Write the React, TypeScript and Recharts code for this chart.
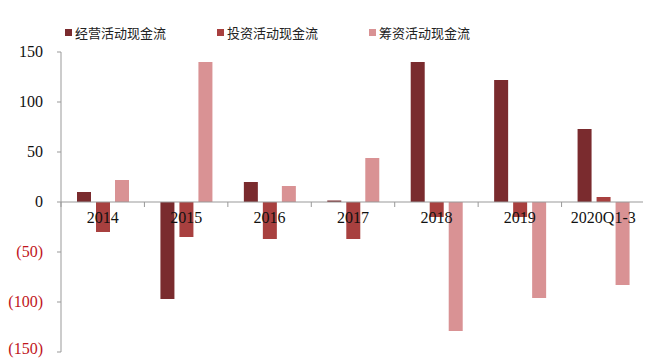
import React from "react";
import {
  BarChart,
  Bar,
  XAxis,
  YAxis,
  Legend,
  ReferenceLine,
} from "recharts";

const categories = ["2014", "2015", "2016", "2017", "2018", "2019", "2020Q1-3"];
const operating = [10, -97, 20, 1.5, 140, 122, 73];
const investing = [-30, -35, -37, -37, -15, -15, 5];
const financing = [22, 140, 16, 44, -129, -96, -83];
const yTicks = [150, 100, 50, 0, -50, -100, -150];

const SERIES = [
  { key: "op", name: "经营活动现金流", color: "#7a2b2e" },
  { key: "inv", name: "投资活动现金流", color: "#a8403f" },
  { key: "fin", name: "筹资活动现金流", color: "#d99294" },
];

const data = categories.map((name, i) => ({
  name,
  op: operating[i],
  inv: investing[i],
  fin: financing[i],
}));

const WIDTH = 643;
const HEIGHT = 350;
const LEGEND_H = 20;
const Y_AXIS_W = 53;
const X_AXIS_H = 1;
// the legend's height is added on top of margin.top by the chart
const MARGIN = { top: 24, right: 6, bottom: 5, left: 0 };
const Y_MIN = -150;
const Y_MAX = 150;
const PLOT_TOP = MARGIN.top + LEGEND_H;
const PLOT_W = WIDTH - MARGIN.left - MARGIN.right - Y_AXIS_W;
const PLOT_H = HEIGHT - PLOT_TOP - MARGIN.bottom - X_AXIS_H;
const ZERO_Y = PLOT_TOP + (PLOT_H * Y_MAX) / (Y_MAX - Y_MIN);
const BAND = PLOT_W / categories.length;

const SERIF = "'Liberation Serif', 'Times New Roman', serif";
const CJK = "'Noto Sans CJK SC', sans-serif";

const fmtY = (v: number) => (v < 0 ? `(${Math.abs(v)})` : `${v}`);

function YTick(props: any) {
  const { x, y, payload } = props;
  const v = payload.value as number;
  return (
    <text
      x={x}
      y={y}
      dy={5}
      textAnchor="end"
      fontFamily={SERIF}
      fontSize={16}
      fill={v < 0 ? "#c0151b" : "#111"}
    >
      {fmtY(v)}
    </text>
  );
}

// category labels sit just under the zero line, ticks mark band edges
function XTick(props: any) {
  const { x, payload, index } = props;
  const left = x - BAND / 2;
  const last = index === categories.length - 1;
  return (
    <g>
      <line x1={left} x2={left} y1={ZERO_Y} y2={ZERO_Y + 5} stroke="#999" />
      {last && (
        <line x1={x + BAND / 2} x2={x + BAND / 2} y1={ZERO_Y} y2={ZERO_Y + 5} stroke="#999" />
      )}
      <text
        x={x}
        y={ZERO_Y + 21}
        textAnchor="middle"
        fontFamily={SERIF}
        fontSize={16}
        fill="#111"
      >
        {payload.value}
      </text>
    </g>
  );
}

function LegendRow() {
  return (
    <div style={{ display: "flex", paddingLeft: 57, height: LEGEND_H, alignItems: "center" }}>
      {SERIES.map((s) => (
        <div
          key={s.key}
          style={{ width: 152, display: "flex", alignItems: "center", fontFamily: CJK, fontSize: 13, color: "#222" }}
        >
          <span style={{ width: 7, height: 7, background: s.color, marginRight: 3, display: "inline-block" }} />
          {s.name}
        </div>
      ))}
    </div>
  );
}

export default function App() {
  return (
    <BarChart
      width={WIDTH}
      height={HEIGHT}
      data={data}
      margin={MARGIN}
      barSize={14}
      barGap={5}
    >
      <Legend
        verticalAlign="top"
        align="left"
        content={<LegendRow />}
        wrapperStyle={{ top: 14, left: 0, height: LEGEND_H }}
      />
      <XAxis
        dataKey="name"
        axisLine={false}
        tickLine={false}
        tick={<XTick />}
        height={X_AXIS_H}
        interval={0}
      />
      <YAxis
        domain={[Y_MIN, Y_MAX]}
        ticks={yTicks}
        width={Y_AXIS_W}
        tickSize={4}
        tickMargin={14}
        tick={<YTick />}
        axisLine={{ stroke: "#999" }}
        tickLine={{ stroke: "#999" }}
      />
      <ReferenceLine y={0} stroke="#999" />
      {SERIES.map((s) => (
        <Bar key={s.key} dataKey={s.key} name={s.name} fill={s.color} isAnimationActive={false} />
      ))}
    </BarChart>
  );
}
